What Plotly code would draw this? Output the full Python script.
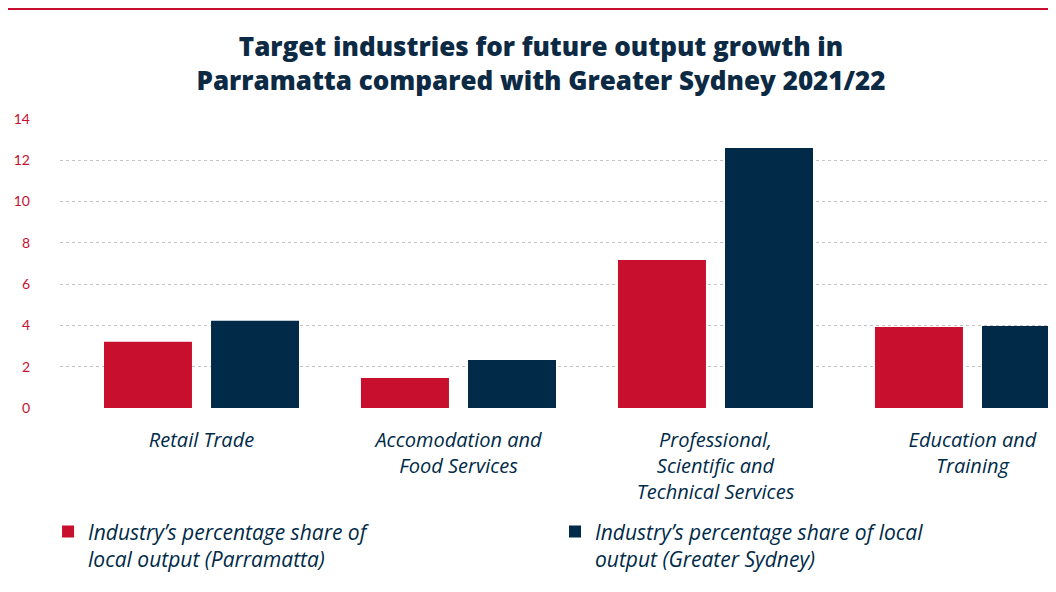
import plotly.graph_objects as go

categories = ["Retail Trade", "Accomodation and<br>Food Services",
              "Professional,<br>Scientific and<br>Technical Services",
              "Education and<br>Training"]
parramatta = [3.21, 1.45, 7.17, 3.92]
greater_sydney = [4.23, 2.33, 12.6, 3.97]
series_names = ["Industry’s percentage share of<br>local output (Parramatta)",
                "Industry’s percentage share of local<br>output (Greater Sydney)"]
y_ticks = [0, 2, 4, 6, 8, 10, 12, 14]

RED = "#c8102e"
NAVY = "#002a48"
BODY_FONT = "Open Sans"

fig = go.Figure()
fig.add_trace(go.Bar(x=categories, y=parramatta, name=series_names[0],
                     marker=dict(color=RED, line=dict(width=0)), legend="legend"))
fig.add_trace(go.Bar(x=categories, y=greater_sydney, name=series_names[1],
                     marker=dict(color=NAVY, line=dict(width=0)), legend="legend2"))

legend_common = dict(valign="top", bgcolor="rgba(0,0,0,0)",
                     font=dict(family=BODY_FONT, size=21, color=NAVY, style="italic"),
                     yanchor="top", xanchor="left", y=-0.358)

fig.update_layout(
    width=1048, height=584,
    margin=dict(l=52, r=0, t=111, b=184, autoexpand=False),
    paper_bgcolor="white", plot_bgcolor="white",
    barmode="group", bargap=0.167, bargroupgap=0.178,
    title=dict(text="Target industries for future output growth in<br>Parramatta compared with Greater Sydney 2021/22",
               x=0.5086, xanchor="center", y=0.917, yanchor="middle",
               font=dict(family=BODY_FONT, size=26, color="#0d2a45", weight=800)),
    font=dict(family=BODY_FONT, color=NAVY),
    showlegend=True,
    legend=dict(x=-0.012, **legend_common),
    legend2=dict(x=0.497, **legend_common),
    xaxis=dict(type="category", range=[-0.5506, 3.325], showgrid=False,
               showline=False, zeroline=False, ticks="outside", ticklen=14,
               tickcolor="rgba(0,0,0,0)", automargin=False,
               tickfont=dict(family=BODY_FONT, size=20, color=NAVY, style="italic")),
    yaxis=dict(range=[0, 14], tickvals=y_ticks, showgrid=True, gridcolor="#c4c4c4",
               griddash="dot", gridwidth=1, zeroline=False, showline=False,
               ticks="", ticklabelstandoff=29, automargin=False,
               tickfont=dict(family="Lato", size=14, color=RED)),
    shapes=[dict(type="line", xref="paper", yref="paper",
                 x0=-52 / 996, x1=1.0, y0=1 + 110 / 289, y1=1 + 110 / 289,
                 line=dict(color=RED, width=2))],
)

fig.write_html("out.html")
